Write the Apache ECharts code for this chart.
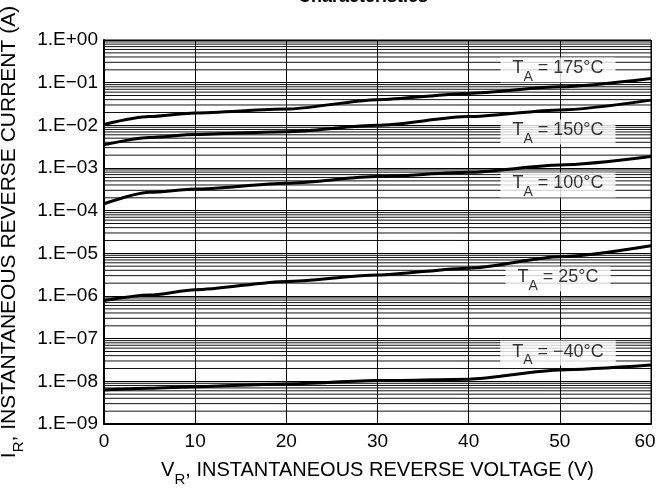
<!DOCTYPE html>
<html>
<head>
<meta charset="utf-8">
<script src="https://cdn.jsdelivr.net/npm/echarts@6/dist/echarts.min.js"></script>
<style>html,body{margin:0;padding:0;background:#fff}#c{width:662px;height:492px}</style>
</head>
<body>
<div id="c"></div>
<script>
// ---- data ----
const voltages = [0, 5, 10, 20, 30, 40, 50, 60];
const ta175 = [1.05e-2, 1.6e-2, 1.95e-2, 2.4e-2, 4.0e-2, 5.6e-2, 8.0e-2, 1.25e-1];
const ta150 = [3.5e-3, 5.2e-3, 6.1e-3, 7.1e-3, 1.0e-2, 1.6e-2, 2.3e-2, 3.9e-2];
const ta100 = [1.45e-4, 2.7e-4, 3.2e-4, 4.4e-4, 6.3e-4, 7.9e-4, 1.17e-3, 1.85e-3];
const ta25  = [7.8e-7, 1.05e-6, 1.4e-6, 2.2e-6, 3.1e-6, 4.5e-6, 8.3e-6, 1.5e-5];
const taM40 = [6.3e-9, 6.9e-9, 7.5e-9, 8.7e-9, 1.04e-8, 1.12e-8, 1.85e-8, 2.4e-8];
const curveNames = ['175', '150', '100', '25', '−40'];
const labelX = [49.8, 49.8, 49.8, 49.8, 49.8];
const labelY = [0.198, 6.98e-3, 4.0e-4, 2.5e-6, 4.6e-8];
const xTicks = [0, 10, 20, 30, 40, 50, 60];

const FONT = 'Liberation Sans';
const curves = [ta175, ta150, ta100, ta25, taM40];

// minor log grid lines (2..9 per decade), drawn as broken line segments across the plot
const minorData = [];
for (let d = -9; d <= -1; d++) {
  for (let k = 2; k <= 9; k++) {
    const v = k * Math.pow(10, d);
    minorData.push([0, v], [60, v], [60, '-']);
  }
}

function yFmt(v) {
  const e = Math.round(Math.log10(v));
  const s = e < 0 ? '\u2212' : '+';
  const a = Math.abs(e);
  return '1.E' + s + (a < 10 ? '0' : '') + a;
}

function richSub(size, sub, drop) {
  return {
    m: { fontFamily: FONT, fontSize: size, color: '#000', lineHeight: size + 4, verticalAlign: 'top' },
    s: { fontFamily: FONT, fontSize: sub, color: '#000', lineHeight: sub, padding: [drop, 0, 0, 0], verticalAlign: 'top' }
  };
}

const series = [];
series.push({
  type: 'line', z: 1, silent: true, animation: false,
  data: minorData, showSymbol: false, connectNulls: false,
  lineStyle: { color: '#111', width: 1 }, itemStyle: { color: '#111' }
});
curves.forEach((c, i) => {
  series.push({
    type: 'line', name: curveNames[i], z: 6,
    data: voltages.map((v, j) => [v, c[j]]),
    showSymbol: false, smooth: 0.25, smoothMonotone: 'x',
    lineStyle: { color: '#000', width: 3 }, itemStyle: { color: '#000' },
    animation: false, silent: true
  });
});
series.push({
  type: 'scatter', z: 4, silent: true, animation: false,
  symbolSize: 1, itemStyle: { color: 'rgba(0,0,0,0)' },
  data: labelX.map((x, i) => [x, labelY[i], curveNames[i]]),
  label: {
    show: true, position: 'inside',
    backgroundColor: '#fff', padding: [2, 12, 1, 12],
    formatter: p => '{m|T}{s|A}{m| = ' + p.data[2] + '°C}',
    rich: richSub(18, 14, 11)
  }
});

const chart = echarts.init(document.getElementById('c'), null, { renderer: 'canvas' });
chart.setOption({
  animation: false,
  backgroundColor: '#fff',
  title: {
    text: 'Characteristics', left: 293, top: -17,
    textStyle: { fontFamily: FONT, fontSize: 18, fontWeight: 'bold', color: '#000' }
  },
  grid: { left: 104, right: 11, top: 40, bottom: 68, show: true, borderColor: '#000', borderWidth: 1,
    backgroundColor: 'transparent', containLabel: false, outerBoundsMode: 'none' },
  xAxis: {
    type: 'value', min: 0, max: 60, interval: 10,
    axisLine: { show: true, lineStyle: { color: '#000', width: 2 } },
    axisTick: { show: false },
    splitLine: { show: true, lineStyle: { color: '#000', width: 1 } },
    axisLabel: { fontFamily: FONT, fontSize: 19, color: '#000', margin: 8,
      formatter: v => xTicks.indexOf(v) < 0 ? '' : (v === 60 ? '{r|60}' : String(v)),
      rich: { r: { fontFamily: FONT, fontSize: 19, color: '#000', padding: [0, 12, 0, 0] } } },
    name: '{m|V}{s|R}{m|, INSTANTANEOUS REVERSE VOLTAGE (V)}',
    nameLocation: 'middle', nameGap: 36,
    nameTextStyle: { rich: richSub(20, 15, 12) }
  },
  yAxis: {
    type: 'log', logBase: 10, min: 1e-9, max: 1,
    axisLine: { show: true, onZero: false, lineStyle: { color: '#000', width: 2 } },
    axisTick: { show: false },
    splitLine: { show: true, lineStyle: { color: '#000', width: 1 } },
    minorTick: { show: false }, minorSplitLine: { show: false },
    axisLabel: { fontFamily: FONT, fontSize: 19, color: '#000', margin: 6, formatter: yFmt },
    name: '{m|I}{s|R}{m|, INSTANTANEOUS REVERSE CURRENT (A)}',
    nameLocation: 'middle', nameGap: 76, nameRotate: 90,
    nameTextStyle: { rich: richSub(21, 15, 13) }
  },
  series: series
});
</script>
</body>
</html>
